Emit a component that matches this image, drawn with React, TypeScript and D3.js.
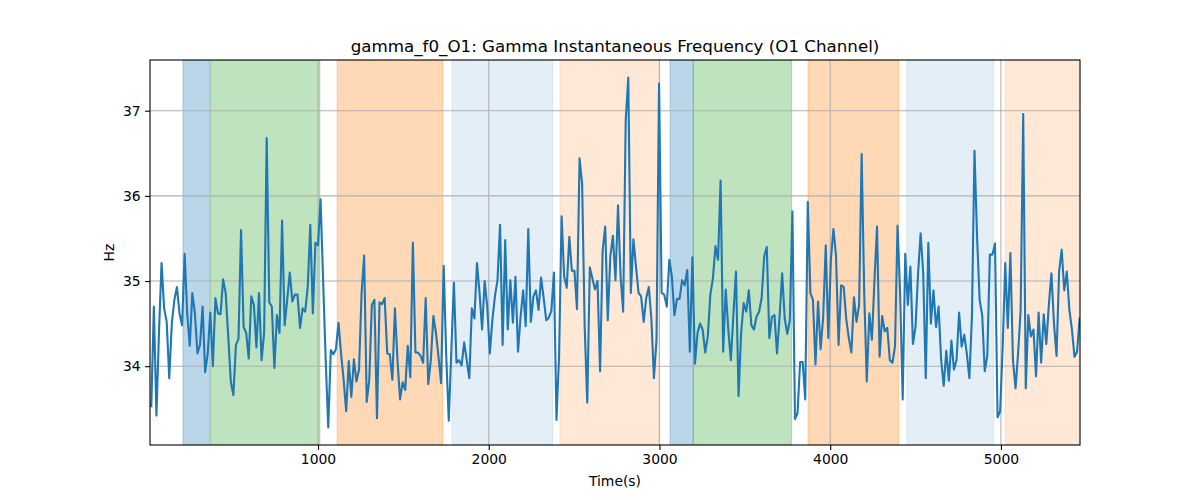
import { useEffect, useRef } from 'react'
import * as d3 from 'd3'

// instantaneous gamma frequency (Hz), one value per analysis step
const freqHz = [
  33.53, 34.7, 33.42, 34.4, 35.21, 34.68, 34.52, 33.86, 34.5, 34.78, 34.93, 34.62, 34.48, 35.32, 34.62,
  34.24, 34.86, 34.62, 34.15, 34.25, 34.7, 33.93, 34.15, 34.63, 34.0, 34.8, 34.62, 34.61, 35.02, 34.86,
  34.35, 33.82, 33.66, 34.25, 34.32, 35.6, 34.46, 34.39, 34.09, 34.82, 34.72, 34.22, 34.86, 34.07, 34.39,
  36.68, 34.75, 34.7, 33.98, 34.6, 34.39, 35.71, 34.48, 34.78, 35.1, 34.76, 34.84, 34.84, 34.45, 34.68,
  34.64, 34.93, 35.66, 34.62, 35.45, 35.42, 35.96, 35.01, 34.07, 33.28, 34.19, 34.14, 34.2, 34.51, 34.15,
  33.84, 33.47, 34.06, 33.64, 34.08, 33.82, 33.96, 34.86, 35.3, 33.58, 33.84, 34.72, 34.78, 33.39, 34.75,
  34.73, 34.8, 34.15, 34.14, 33.84, 34.68, 34.07, 33.61, 33.81, 33.72, 34.24, 33.87, 35.45, 34.16, 34.16,
  34.12, 34.04, 34.8, 33.79, 34.07, 34.59, 34.39, 34.11, 33.8, 35.18, 34.13, 33.36, 34.19, 34.98, 34.04,
  34.07, 34.01, 34.28, 34.07, 33.86, 34.68, 34.56, 35.21, 34.86, 34.43, 35.0, 34.7, 34.15, 34.54, 34.82,
  35.01, 35.66, 34.25, 35.48, 34.43, 35.01, 34.51, 35.05, 34.17, 34.58, 34.89, 34.47, 35.61, 34.52, 34.82,
  34.89, 34.66, 35.04, 34.8, 34.54, 34.57, 34.65, 35.1, 33.37, 34.11, 35.76, 35.05, 34.92, 35.52, 35.12,
  35.12, 34.67, 36.44, 36.14, 34.46, 33.57, 35.16, 35.03, 34.9, 35.0, 33.94, 35.36, 35.64, 34.54, 35.29,
  35.53, 35.01, 35.89, 35.05, 34.64, 36.89, 37.39, 34.86, 35.49, 35.17, 34.86, 34.82, 34.52, 34.8, 34.93,
  34.56, 33.86, 34.31, 37.32, 34.86, 34.84, 34.7, 35.25, 35.05, 34.6, 34.79, 34.79, 35.01, 34.95, 35.13,
  34.17, 35.28, 34.03, 34.39, 34.5, 34.43, 34.16, 34.35, 34.84, 35.03, 35.41, 35.25, 36.18, 34.17, 34.9,
  34.43, 34.07, 34.62, 35.11, 33.65, 34.39, 34.74, 34.64, 34.89, 34.48, 34.43, 34.58, 34.64, 34.8, 35.29,
  35.4, 34.33, 34.58, 34.6, 34.15, 34.58, 35.09, 34.56, 34.38, 34.54, 35.82, 33.38, 33.45, 34.05, 34.05,
  33.61, 35.93, 34.86, 34.78, 34.02, 34.76, 34.2, 34.58, 35.42, 34.33, 35.25, 35.61, 35.3, 34.25, 34.95,
  34.93, 34.55, 34.33, 34.16, 34.81, 34.52, 34.72, 36.49, 34.86, 33.82, 34.62, 34.31, 35.01, 35.64, 34.11,
  34.59, 34.41, 34.45, 34.07, 34.04, 34.23, 35.65, 34.86, 33.61, 35.32, 34.72, 35.17, 34.26, 34.46, 35.09,
  35.56, 35.09, 33.86, 35.45, 34.5, 34.89, 34.46, 34.7, 34.07, 33.77, 34.18, 33.83, 34.3, 33.96, 34.07,
  34.63, 34.23, 34.37, 34.15, 33.86, 34.58, 36.53, 35.52, 34.78, 34.6, 33.94, 34.13, 35.31, 35.31, 35.44,
  33.4, 33.47, 34.23, 35.21, 34.45, 35.33, 34.07, 33.74, 34.15, 34.66, 36.96, 33.74, 34.6, 34.35, 34.43,
  33.88, 34.63, 34.04, 34.61, 34.26, 34.72, 35.09, 34.5, 34.12, 35.11, 35.37, 34.89, 35.11, 34.66, 34.43,
  34.11, 34.17, 34.56,
]
const tStart = 23.6 // s, first sample
const tStep = 15.02 // s between samples
const xLimits = [16, 5463] // s, visible time range

// shaded segments (s)
const segStart = [209, 372, 1112, 1785, 2417, 3062, 3198, 3870, 4449, 5024]
const segEnd = [367, 1011, 1730, 2374, 2998, 3198, 3774, 4400, 4957, 5480]
const segKind = ['blue', 'green', 'orange', 'blueLight', 'orangeLight', 'blue', 'green', 'orange', 'blueLight', 'orangeLight']

const xTicks = [1000, 2000, 3000, 4000, 5000]
const yTicks = [34, 35, 36, 37]

export default function App() {
  const ref = useRef<HTMLDivElement>(null)

  useEffect(() => {
    if (!ref.current) return
    ref.current.innerHTML = ''
    document.body.style.margin = '0'

    const W = 1200
    const H = 500
    const m = { left: 150, right: 1080, top: 60, bottom: 445 }

    const times = freqHz.map((_, i) => tStart + i * tStep)
    const data = freqHz.map((v, i) => ({ t: times[i], v }))

    const x = d3.scaleLinear().domain(xLimits).range([m.left, m.right])
    const [lo, hi] = d3.extent(freqHz) as [number, number]
    const pad = (hi - lo) * 0.05
    const y = d3.scaleLinear().domain([lo - pad, hi + pad]).range([m.bottom, m.top])

    const segColor = d3
      .scaleOrdinal<string, string>()
      .domain(['blue', 'green', 'orange', 'blueLight', 'orangeLight'])
      .range(['#1f77b4', '#2ca02c', '#ff7f0e', '#1f77b4', '#ff7f0e'])
    const segAlpha = d3
      .scaleOrdinal<string, number>()
      .domain(['blue', 'green', 'orange', 'blueLight', 'orangeLight'])
      .range([0.3, 0.3, 0.3, 0.12, 0.17])

    const svg = d3
      .select(ref.current)
      .append('svg')
      .attr('width', W)
      .attr('height', H)
      .style('display', 'block')
      .style('font-family', '"DejaVu Sans", sans-serif')

    svg.append('rect').attr('width', W).attr('height', H).attr('fill', '#fff')

    svg
      .append('clipPath')
      .attr('id', 'plot-clip')
      .append('rect')
      .attr('x', m.left)
      .attr('y', m.top)
      .attr('width', m.right - m.left)
      .attr('height', m.bottom - m.top)

    const plot = svg.append('g').attr('clip-path', 'url(#plot-clip)')

    // ── shaded segments ───────────────────────────────────────────────
    segStart.forEach((s, i) => {
      const k = segKind[i]
      plot
        .append('rect')
        .attr('x', x(s))
        .attr('y', m.top)
        .attr('width', x(segEnd[i]) - x(s))
        .attr('height', m.bottom - m.top)
        .attr('fill', segColor(k))
        .attr('fill-opacity', segAlpha(k))
        .attr('stroke', segColor(k))
        .attr('stroke-opacity', segAlpha(k))
        .attr('stroke-width', 1)
    })

    // ── grid ──────────────────────────────────────────────────────────
    xTicks.forEach((t) => {
      plot
        .append('line')
        .attr('x1', x(t))
        .attr('x2', x(t))
        .attr('y1', m.top)
        .attr('y2', m.bottom)
        .attr('stroke', '#b0b0b0')
        .attr('stroke-width', 1.1)
    })
    yTicks.forEach((t) => {
      plot
        .append('line')
        .attr('x1', m.left)
        .attr('x2', m.right)
        .attr('y1', y(t))
        .attr('y2', y(t))
        .attr('stroke', '#b0b0b0')
        .attr('stroke-width', 1.1)
    })

    // ── frequency trace ───────────────────────────────────────────────
    const line = d3
      .line<{ t: number; v: number }>()
      .x((d) => x(d.t))
      .y((d) => y(d.v))

    plot
      .append('path')
      .datum(data)
      .attr('d', line)
      .attr('fill', 'none')
      .attr('stroke', '#1f77b4')
      .attr('stroke-width', 2.1)
      .attr('stroke-linejoin', 'round')
      .attr('stroke-linecap', 'square')

    // ── spines ────────────────────────────────────────────────────────
    svg
      .append('rect')
      .attr('x', m.left)
      .attr('y', m.top)
      .attr('width', m.right - m.left)
      .attr('height', m.bottom - m.top)
      .attr('fill', 'none')
      .attr('stroke', '#000')
      .attr('stroke-width', 1.1)

    // ── axes ──────────────────────────────────────────────────────────
    const xAxis = svg
      .append('g')
      .attr('transform', `translate(0,${m.bottom})`)
      .call(d3.axisBottom(x).tickValues(xTicks).tickFormat(d3.format('d')).tickSize(4.9).tickPadding(4.5))
    const yAxis = svg
      .append('g')
      .attr('transform', `translate(${m.left},0)`)
      .call(d3.axisLeft(y).tickValues(yTicks).tickFormat(d3.format('d')).tickSize(4.9).tickPadding(4.5))

    for (const ax of [xAxis, yAxis]) {
      ax.select('.domain').remove()
      ax.selectAll('line').attr('stroke', '#000').attr('stroke-width', 1.1)
      ax.selectAll('text')
        .attr('fill', '#000')
        .style('font-size', '13.9px')
        .style('font-family', '"DejaVu Sans", sans-serif')
    }

    // ── labels ────────────────────────────────────────────────────────
    svg
      .append('text')
      .attr('x', (m.left + m.right) / 2)
      .attr('y', 52)
      .attr('text-anchor', 'middle')
      .style('font-size', '16.7px')
      .style('fill', '#000')
      .text('gamma_f0_O1: Gamma Instantaneous Frequency (O1 Channel)')

    svg
      .append('text')
      .attr('x', (m.left + m.right) / 2)
      .attr('y', 486)
      .attr('text-anchor', 'middle')
      .style('font-size', '13.9px')
      .style('fill', '#000')
      .text('Time(s)')

    svg
      .append('text')
      .attr('transform', `translate(114,${(m.top + m.bottom) / 2}) rotate(-90)`)
      .attr('text-anchor', 'middle')
      .style('font-size', '13.9px')
      .style('fill', '#000')
      .text('Hz')
  }, [])

  return <div ref={ref} />
}
